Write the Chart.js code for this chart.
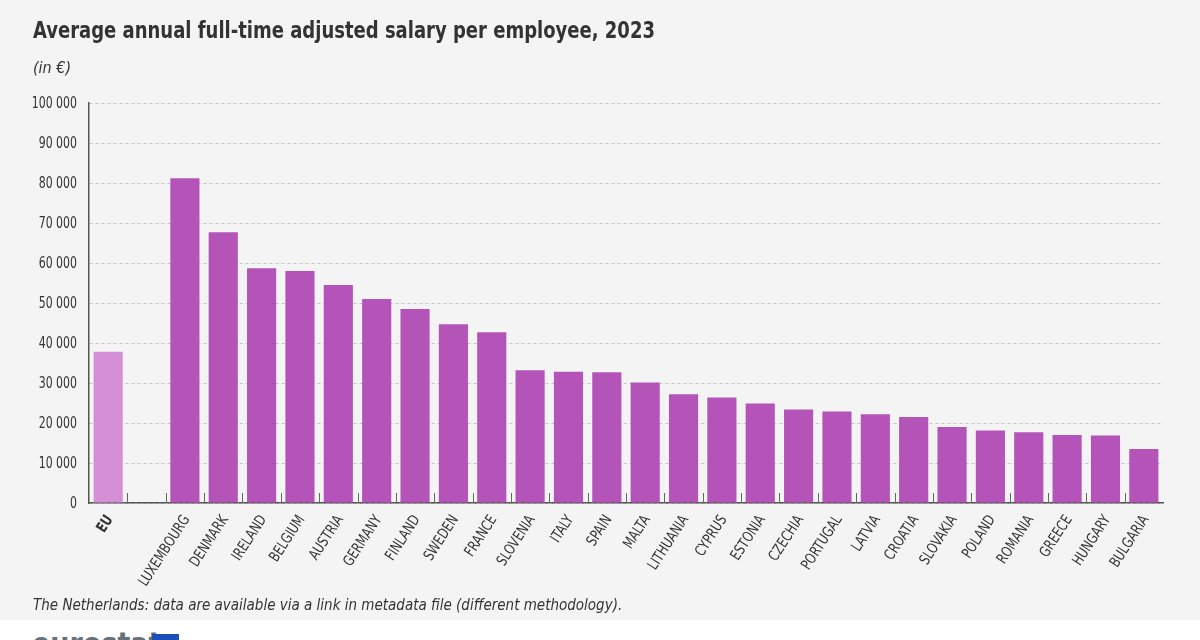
<!DOCTYPE html>
<html>
<head>
<meta charset="utf-8">
<script src="https://cdn.jsdelivr.net/npm/chart.js@4.4.1/dist/chart.umd.min.js"></script>
<style>
  html, body { margin: 0; padding: 0; background: #f4f4f4; }
  body { width: 1200px; height: 640px; position: relative; overflow: hidden;
         font-family: 'DejaVu Sans Condensed', 'Liberation Sans Narrow', sans-serif; color: #333; }
  #wrap { position: absolute; left: 0; top: 0; width: 1200px; height: 640px; }
  .title { position: absolute; left: 33px; top: 19px; font-size: 23px; line-height: 1; font-weight: 700;
           color: #333; white-space: nowrap; transform: scaleX(0.87); transform-origin: left top; }
  .sub { position: absolute; left: 33px; top: 58px; font-size: 16px; font-style: italic; color: #333; }
  .note { position: absolute; left: 33px; top: 598px; font-size: 15px; line-height: 1; font-style: italic; color: #333; white-space: nowrap; }
  .strip { position: absolute; left: 0; top: 620px; width: 1200px; height: 20px; background: #ffffff; }
  .logo { position: absolute; left: 32px; top: 629px; font-size: 30px; line-height: 1; font-weight: 700; color: #66717c; }
  .flag { position: absolute; left: 152px; top: 634px; width: 27px; height: 10px; background: #1d4fb8; }
</style>
</head>
<body>
<div id="wrap"><canvas id="chart" width="1200" height="640"></canvas></div>
<div class="title">Average annual full-time adjusted salary per employee, 2023</div>
<div class="sub">(in €)</div>
<div class="note">The Netherlands: data are available via a link in metadata file (different methodology).</div>
<div class="strip"></div>
<div class="logo">eurostat</div>
<div class="flag"></div>
<script>
const FONT = "'DejaVu Sans Condensed', 'Liberation Sans Narrow', sans-serif";

const countries = ['EU', '', 'LUXEMBOURG', 'DENMARK', 'IRELAND', 'BELGIUM', 'AUSTRIA', 'GERMANY',
  'FINLAND', 'SWEDEN', 'FRANCE', 'SLOVENIA', 'ITALY', 'SPAIN', 'MALTA', 'LITHUANIA', 'CYPRUS',
  'ESTONIA', 'CZECHIA', 'PORTUGAL', 'LATVIA', 'CROATIA', 'SLOVAKIA', 'POLAND', 'ROMANIA',
  'GREECE', 'HUNGARY', 'BULGARIA'];

const salaries = [37800, null, 81200, 67700, 58700, 58000, 54500, 51000,
  48500, 44700, 42700, 33200, 32800, 32700, 30100, 27200, 26400,
  24900, 23400, 22900, 22200, 21500, 19000, 18100, 17700,
  17000, 16900, 13500];

const yTicks = [0, 10000, 20000, 30000, 40000, 50000, 60000, 70000, 80000, 90000, 100000];

const barColors = countries.map(c => c === 'EU' ? '#d48fd6' : '#b454b8');

const fmt = v => String(v).replace(/\B(?=(\d{3})+(?!\d))/g, ' ');

// short tick marks pointing up from the x axis, between categories
const boundaryTicks = {
  id: 'boundaryTicks',
  afterDatasetsDraw(chart) {
    const { ctx, scales: { x }, chartArea } = chart;
    ctx.save();
    ctx.strokeStyle = '#666';
    ctx.lineWidth = 1;
    for (let i = 1; i < countries.length; i++) {
      const px = Math.round((x.getPixelForValue(i - 1) + x.getPixelForValue(i)) / 2) + 0.5;
      ctx.beginPath();
      ctx.moveTo(px, chartArea.bottom);
      ctx.lineTo(px, chartArea.bottom - 10);
      ctx.stroke();
    }
    ctx.restore();
  }
};

// condensed axis labels (the source uses a narrow face we don't have)
const condensedLabels = {
  id: 'condensedLabels',
  afterDraw(chart) {
    const { ctx, scales: { x, y }, chartArea } = chart;
    ctx.save();
    ctx.fillStyle = '#333';

    ctx.textAlign = 'right';
    ctx.textBaseline = 'middle';
    ctx.font = `16px ${FONT}`;
    y.ticks.forEach(t => {
      ctx.save();
      ctx.translate(chartArea.left - 12, y.getPixelForValue(t.value) + 0.5);
      ctx.scale(0.76, 1);
      ctx.fillText(fmt(t.value), 0, 0);
      ctx.restore();
    });

    const angle = -57 * Math.PI / 180;
    countries.forEach((c, i) => {
      if (!c) return;
      ctx.save();
      ctx.font = `${c === 'EU' ? 'bold ' : ''}15px ${FONT}`;
      ctx.translate(x.getPixelForValue(i) + 2, chartArea.bottom + 14);
      ctx.rotate(angle);
      ctx.scale(0.85, 1);
      ctx.fillText(c, 0, 0);
      ctx.restore();
    });
    ctx.restore();
  }
};

new Chart(document.getElementById('chart'), {
  type: 'bar',
  data: {
    labels: countries,
    datasets: [{
      data: salaries,
      backgroundColor: barColors,
      borderWidth: 0,
      barPercentage: 0.76,
      categoryPercentage: 1.0,
    }]
  },
  options: {
    responsive: false,
    animation: false,
    layout: { padding: { top: 103, right: 37, left: 0, bottom: 0 } },
    plugins: { legend: { display: false }, tooltip: { enabled: false } },
    scales: {
      x: {
        afterFit: s => { s.height = 137; },
        grid: { display: false },
        border: { display: true, color: '#555', width: 1.5 },
        ticks: { display: false, autoSkip: false }
      },
      y: {
        min: 0,
        max: 100000,
        afterFit: s => { s.width = 89; },
        afterBuildTicks: s => { s.ticks = yTicks.map(v => ({ value: v })); },
        border: { display: true, color: '#555', width: 1.5, dash: [3, 3] },
        grid: { color: '#c4c4c4', lineWidth: 1, drawTicks: false },
        ticks: { display: false }
      }
    }
  },
  plugins: [boundaryTicks, condensedLabels]
});
</script>
</body>
</html>
